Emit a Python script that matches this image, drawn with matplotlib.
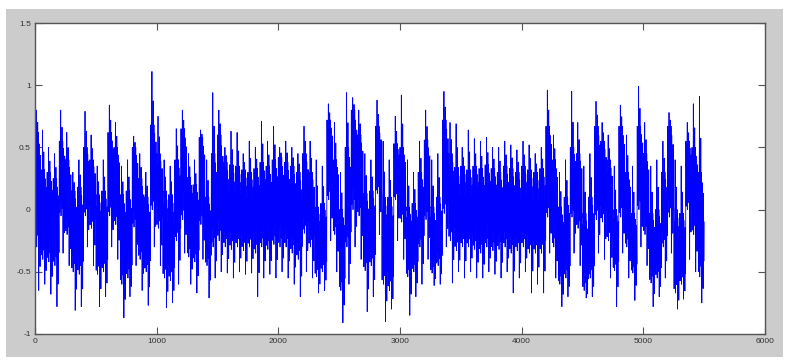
import matplotlib
matplotlib.use("Agg")
import matplotlib.pyplot as plt
from matplotlib.patches import Rectangle
import numpy as np

# envelope readings of the signal, one column per 50 samples
col_step = 50
peak_hi = [0.80, 0.64, 0.50, 0.45, 0.80, 0.62, 0.30, 0.40, 0.79, 0.60,
           0.35, 0.40, 0.84, 0.70, 0.35, 0.40, 0.59, 0.45, 0.30, 1.11,
           0.75, 0.40, 0.35, 0.65, 0.80, 0.45, 0.40, 0.64, 0.40, 0.94,
           0.80, 0.50, 0.63, 0.62, 0.45, 0.55, 0.50, 0.71, 0.55, 0.67,
           0.50, 0.55, 0.50, 0.45, 0.67, 0.55, 0.40, 0.35, 0.85, 0.70,
           0.30, 0.94, 0.90, 0.80, 0.45, 0.40, 0.88, 0.55, 0.40, 0.75,
           0.92, 0.40, 0.30, 0.55, 0.80, 0.40, 0.45, 0.95, 0.70, 0.69,
           0.50, 0.64, 0.57, 0.55, 0.58, 0.50, 0.50, 0.55, 0.52, 0.48,
           0.55, 0.52, 0.45, 0.50, 0.96, 0.60, 0.30, 0.40, 0.95, 0.70,
           0.35, 0.45, 0.87, 0.70, 0.60, 0.35, 0.84, 0.60, 0.35, 0.99,
           0.70, 0.35, 0.40, 0.55, 0.78, 0.40, 0.35, 0.70, 0.85, 0.91]
core_hi = [0.62, 0.32, 0.30, 0.25, 0.55, 0.40, 0.15, 0.18, 0.50, 0.40,
           0.12, 0.15, 0.62, 0.50, 0.12, 0.15, 0.50, 0.25, 0.10, 0.68,
           0.45, 0.15, 0.12, 0.40, 0.65, 0.26, 0.20, 0.58, 0.10, 0.45,
           0.60, 0.38, 0.36, 0.35, 0.32, 0.30, 0.33, 0.38, 0.35, 0.40,
           0.42, 0.38, 0.35, 0.30, 0.45, 0.30, 0.02, 0.05, 0.72, 0.40,
           0.00, 0.50, 0.80, 0.60, 0.13, 0.15, 0.67, 0.10, 0.10, 0.53,
           0.50, 0.02, 0.05, 0.30, 0.56, 0.02, 0.10, 0.72, 0.45, 0.34,
           0.35, 0.32, 0.35, 0.33, 0.36, 0.33, 0.30, 0.35, 0.33, 0.30,
           0.35, 0.32, 0.30, 0.33, 0.67, 0.40, 0.02, 0.10, 0.50, 0.45,
           -0.03, 0.10, 0.67, 0.55, 0.40, 0.00, 0.67, 0.30, -0.03, 0.67,
           0.45, -0.03, 0.00, 0.30, 0.67, 0.00, -0.03, 0.55, 0.50, 0.30]
core_lo = [-0.30, -0.40, -0.42, -0.45, -0.05, -0.20, -0.50, -0.52, -0.05, -0.15,
           -0.52, -0.50, -0.05, -0.12, -0.60, -0.55, -0.14, -0.40, -0.50, 0.00,
           -0.15, -0.55, -0.57, -0.25, -0.08, -0.38, -0.42, -0.12, -0.45, -0.30,
           -0.25, -0.30, -0.32, -0.30, -0.33, -0.30, -0.35, -0.30, -0.32, -0.28,
           -0.30, -0.30, -0.35, -0.40, -0.19, -0.30, -0.54, -0.50, 0.08, -0.20,
           -0.65, -0.30, 0.00, -0.05, -0.49, -0.45, 0.13, -0.60, -0.65, 0.08,
           -0.10, -0.54, -0.50, -0.30, -0.08, -0.51, -0.45, -0.03, -0.25, -0.33,
           -0.30, -0.30, -0.32, -0.35, -0.30, -0.33, -0.32, -0.30, -0.35, -0.33,
           -0.30, -0.35, -0.35, -0.35, -0.06, -0.30, -0.60, -0.55, -0.06, -0.15,
           -0.65, -0.55, -0.08, -0.10, -0.25, -0.49, -0.06, -0.30, -0.51, 0.00,
           -0.20, -0.59, -0.55, -0.30, -0.06, -0.67, -0.60, 0.00, -0.20, -0.54]
peak_lo = [-0.65, -0.60, -0.68, -0.78, -0.35, -0.45, -0.81, -0.78, -0.30, -0.45,
           -0.78, -0.70, -0.30, -0.40, -0.87, -0.70, -0.45, -0.65, -0.77, -0.30,
           -0.45, -0.79, -0.75, -0.60, -0.35, -0.60, -0.67, -0.40, -0.71, -0.55,
           -0.50, -0.51, -0.55, -0.50, -0.52, -0.51, -0.70, -0.55, -0.52, -0.55,
           -0.50, -0.55, -0.60, -0.70, -0.50, -0.55, -0.67, -0.65, -0.25, -0.50,
           -0.91, -0.60, -0.30, -0.40, -0.82, -0.70, -0.20, -0.90, -0.80, -0.25,
           -0.40, -0.85, -0.70, -0.60, -0.40, -0.61, -0.60, -0.30, -0.59, -0.50,
           -0.55, -0.50, -0.55, -0.55, -0.50, -0.52, -0.55, -0.50, -0.67, -0.55,
           -0.50, -0.67, -0.60, -0.67, -0.35, -0.55, -0.78, -0.70, -0.35, -0.45,
           -0.71, -0.70, -0.35, -0.40, -0.55, -0.78, -0.35, -0.55, -0.73, -0.30,
           -0.45, -0.78, -0.70, -0.55, -0.35, -0.80, -0.72, -0.40, -0.50, -0.75]
end_value = -0.10

# how each column is traced: ("c", f) = core point at fraction f from core low
# to core high; ("h", f) / ("l", f) = spike fraction f of the way to the peak
pattern = [("c", 1.0), ("c", 0.05), ("c", 0.85), ("c", 0.2), ("h", 1.0),
           ("c", 0.0), ("c", 0.95), ("c", 0.3), ("h", 0.45), ("c", 0.1),
           ("c", 1.0), ("l", 1.0), ("c", 0.9), ("c", 0.0), ("c", 0.65),
           ("l", 0.45), ("c", 0.8), ("c", 0.15)]

vals = []
for k in range(len(peak_hi)):
    hi, chi, clo, lo = peak_hi[k], core_hi[k], core_lo[k], peak_lo[k]
    for kind, f in pattern:
        if kind == "c":
            vals.append(clo + f * (chi - clo))
        elif kind == "h":
            vals.append(chi + f * (hi - chi))
        else:
            vals.append(clo + f * (lo - clo))
vals.append(end_value)
vals = np.array(vals)
samples = np.linspace(0, len(peak_hi) * col_step, len(vals))

fig = plt.figure(figsize=(7.87, 3.62), dpi=100, facecolor="white")
fig.patches.append(Rectangle((6 / 787, 5 / 362), 777 / 787, 348 / 362,
                             transform=fig.transFigure, facecolor="#cccccc",
                             edgecolor="none", zorder=-10))
ax = fig.add_axes([35 / 787, 28 / 362, 730 / 787, 311 / 362])
ax.plot(samples, vals, color="#0000ff", linewidth=0.6)

ax.set_xlim(0, 6000)
ax.set_ylim(-1, 1.5)
ax.set_xticks(range(0, 6001, 1000))
ax.set_yticks([-1, -0.5, 0, 0.5, 1, 1.5])
ax.set_yticklabels(["-1", "-0.5", "0", "0.5", "1", "1.5"])
ax.tick_params(direction="in", length=5, width=0.8, color="#555555",
               labelsize=6, labelcolor="#333333", top=True, right=True, pad=3)
for lab in ax.get_xticklabels() + ax.get_yticklabels():
    lab.set_family("Liberation Sans")
for s in ax.spines.values():
    s.set_color("#555555")
    s.set_linewidth(1.0)

fig.savefig("out.png", dpi=100, facecolor=fig.get_facecolor())
